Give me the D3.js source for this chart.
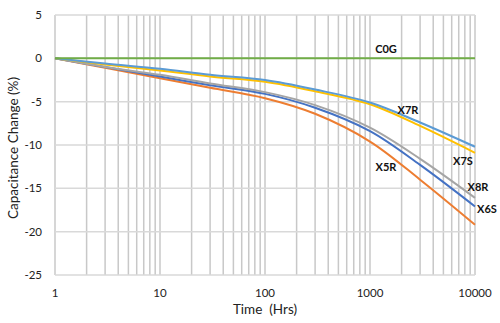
<!DOCTYPE html>
<html><head><meta charset="utf-8">
<script src="https://cdn.jsdelivr.net/npm/d3@7"></script>
<style>body{margin:0;background:#fff}svg{display:block}text{font-family:Lato,"Open Sans",sans-serif}</style>
</head><body>
<svg id="c" width="500" height="323"></svg>
<script>
const times = [1, 3, 10, 30, 100, 300, 1000, 3000, 10000];
const seriesNames = ["C0G", "X7R", "X7S", "X8R", "X6S", "X5R"];
const C0G = [0, 0, 0, 0, 0, 0, 0, 0, 0];
const X7R = [0, -0.6, -1.2, -1.9, -2.5, -3.6, -5.1, -7.4, -10.2];
const X7S = [0, -0.7, -1.4, -2.1, -2.7, -3.8, -5.3, -7.8, -10.9];
const X8R = [0, -1.0, -1.9, -2.9, -3.9, -5.4, -8.0, -11.6, -16.1];
const X6S = [0, -1.0, -2.1, -3.1, -4.1, -5.7, -8.4, -12.3, -17.1];
const X5R = [0, -1.1, -2.3, -3.4, -4.6, -6.4, -9.6, -14.0, -19.2];
const yTicks = [5, 0, -5, -10, -15, -20, -25];
const xTicks = [1, 10, 100, 1000, 10000];

const colors = {C0G:"#70ad47", X7R:"#5b9bd5", X7S:"#ffc000", X8R:"#a5a5a5", X6S:"#4472c4", X5R:"#ed7d31"};
const values = {C0G, X7R, X7S, X8R, X6S, X5R};
const labelPos = {C0G:[386,53,"middle"], X7R:[408,114,"middle"], X7S:[463,165,"middle"], X5R:[386,171,"middle"], X8R:[478,191,"middle"], X6S:[487,213,"middle"]};

const svg = d3.select("#c");
const x = d3.scaleLog().domain([1, 10000]).range([55, 475]);
const y = d3.scaleLinear().domain([-25, 5]).range([275, 15]);

const vgrid = [];
for (let d = 1; d < 10000; d *= 10) for (let k = 1; k <= 9; k++) vgrid.push(d * k);
vgrid.push(10000);
svg.append("g").selectAll("line").data(vgrid).join("line")
  .attr("x1", d => x(d)).attr("x2", d => x(d)).attr("y1", y(5)).attr("y2", y(-25))
  .attr("stroke", "#c8c8c8").attr("stroke-width", 1.5);
svg.append("g").selectAll("line").data(yTicks).join("line")
  .attr("x1", x(1)).attr("x2", x(10000)).attr("y1", d => y(d)).attr("y2", d => y(d))
  .attr("stroke", "#d9d9d9").attr("stroke-width", 1.5);

svg.append("g").selectAll("text").data(yTicks).join("text")
  .attr("x", 42).attr("y", d => y(d) + 4).attr("text-anchor", "end")
  .attr("font-size", 11.5).attr("fill", "#222").text(d => d);
svg.append("g").selectAll("text").data(xTicks).join("text")
  .attr("x", d => x(d)).attr("y", 297).attr("text-anchor", "middle")
  .attr("font-size", 11.5).attr("fill", "#222").text(d => d);

svg.append("text").attr("x", 265).attr("y", 314).attr("text-anchor", "middle")
  .attr("font-size", 13.5).attr("fill", "#222").attr("xml:space","preserve").text("Time  (Hrs)");
svg.append("text").attr("transform", "translate(18,148) rotate(-90)").attr("text-anchor", "middle")
  .attr("font-size", 13.5).attr("fill", "#222").text("Capacitance Change (%)");

const line = d3.line().x((d, i) => x(times[i])).y(d => y(d)).curve(d3.curveCatmullRom.alpha(0.5));
const order = ["X5R", "X6S", "X8R", "X7S", "X7R", "C0G"];
svg.append("g").selectAll("path").data(order).join("path")
  .attr("d", n => line(values[n])).attr("fill", "none")
  .attr("stroke", n => colors[n]).attr("stroke-width", 2);

svg.append("g").selectAll("text").data(seriesNames).join("text")
  .attr("x", n => labelPos[n][0]).attr("y", n => labelPos[n][1])
  .attr("text-anchor", n => labelPos[n][2]).attr("font-size", 11).attr("font-weight", "bold")
  .attr("fill", "#111").text(n => n);
</script>
</body></html>
